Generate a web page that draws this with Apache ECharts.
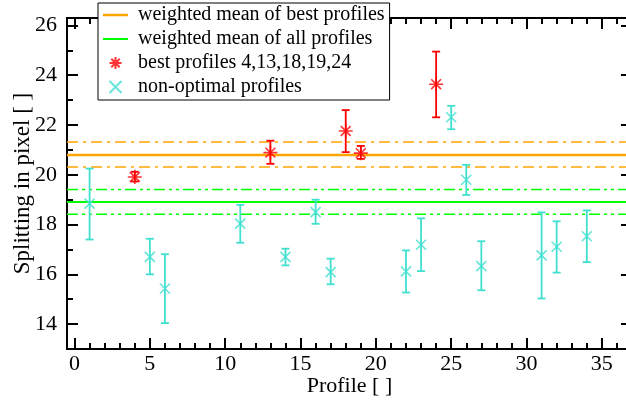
<!DOCTYPE html>
<html>
<head>
<meta charset="utf-8">
<script src="https://cdn.jsdelivr.net/npm/echarts@6/dist/echarts.min.js"></script>
<style>html,body{margin:0;padding:0;background:#fff;}#c{width:626px;height:404px;}</style>
</head>
<body>
<div id="c"></div>
<script>
// ---- data ----
var bestX  = [4, 13, 18, 19, 24];
var bestY  = [19.91, 20.89, 21.76, 20.87, 23.64];
var bestLo = [19.73, 20.44, 20.91, 20.64, 22.31];
var bestHi = [20.12, 21.37, 22.60, 21.16, 24.95];

var otherX  = [1, 5, 6, 11, 14, 16, 17, 22, 23, 25, 26, 27, 31, 32, 34];
var otherY  = [18.84, 16.70, 15.43, 18.04, 16.70, 18.50, 16.09, 16.12, 17.19, 22.31, 19.80, 16.33, 16.76, 17.11, 17.53];
var otherLo = [17.40, 16.00, 14.04, 17.27, 16.36, 18.03, 15.60, 15.27, 16.13, 21.83, 19.19, 15.36, 15.03, 16.07, 16.49];
var otherHi = [20.25, 17.43, 16.81, 18.79, 17.03, 19.00, 16.63, 16.96, 18.25, 22.77, 20.40, 17.33, 18.49, 18.13, 18.57];

var bestMean = 20.80, bestMeanLo = 20.31, bestMeanHi = 21.32;
var allMean  = 18.91, allMeanLo  = 18.41, allMeanHi  = 19.41;

var xMajorTicks = [0, 5, 10, 15, 20, 25, 30, 35];
var xMinorTicks = [0,1,2,3,4,5,6,7,8,9,10,11,12,13,14,15,16,17,18,19,20,21,22,23,24,25,26,27,28,29,30,31,32,33,34,35,36];
var yMajorTicks = [14, 16, 18, 20, 22, 24, 26];
var yMinorTicks = [13,14,15,16,17,18,19,20,21,22,23,24,25,26];

var names = ['weighted mean of best profiles', 'weighted mean of all profiles', 'best profiles 4,13,18,19,24', 'non-optimal profiles'];

// ---- chart ----
var XMIN = -0.5, XMAX = 37, YMIN = 13, YMAX = 26.3;
var FONT = 'Liberation Serif';
var ORANGE = '#ffa500', GREEN = '#00ff00', RED = '#ff0000', CYAN = '#40e0d0';
var STAR = 'path://M0,-10L0,10M-10,0L10,0M-7,-7L7,7M-7,7L7,-7';
var CROSS = 'path://M-5,-5L5,5M-5,5L5,-5';

function zip2(a, b) { return a.map(function (v, i) { return [v, b[i]]; }); }
function zip3(a, b, c) { return a.map(function (v, i) { return [v, b[i], c[i]]; }); }
function hline(v) { return [[XMIN, v], [XMAX, v]]; }

function errRender(color) {
  return function (params, api) {
    var x = api.value(0), lo = api.value(1), hi = api.value(2);
    var a = api.coord([x, lo]), b = api.coord([x, hi]);
    var w = 4;
    var st = { stroke: color, lineWidth: 1.8 };
    return { type: 'group', children: [
      { type: 'line', shape: { x1: a[0], y1: a[1], x2: b[0], y2: b[1] }, style: st },
      { type: 'line', shape: { x1: a[0] - w, y1: a[1], x2: a[0] + w, y2: a[1] }, style: st },
      { type: 'line', shape: { x1: b[0] - w, y1: b[1], x2: b[0] + w, y2: b[1] }, style: st }
    ]};
  };
}

function xAx(pos, ticks, len, labels, extra) {
  var o = {
    type: 'value', position: pos, min: XMIN, max: XMAX,
    axisLine: { show: true, onZero: false, lineStyle: { color: '#000', width: 2 } },
    axisTick: { show: true, inside: true, length: len, customValues: ticks, lineStyle: { color: '#000', width: 2 } },
    axisLabel: labels ? { show: true, customValues: xMajorTicks, color: '#000', fontFamily: FONT, fontSize: 22, margin: 4 } : { show: false },
    splitLine: { show: false }
  };
  return Object.assign(o, extra || {});
}
function yAx(pos, ticks, len, labels, extra) {
  var o = {
    type: 'value', position: pos, min: YMIN, max: YMAX,
    axisLine: { show: true, onZero: false, lineStyle: { color: '#000', width: 2 } },
    axisTick: { show: true, inside: true, length: len, customValues: ticks, lineStyle: { color: '#000', width: 2 } },
    axisLabel: labels ? { show: true, customValues: yMajorTicks, color: '#000', fontFamily: FONT, fontSize: 22, margin: 10 } : { show: false },
    splitLine: { show: false }
  };
  return Object.assign(o, extra || {});
}

var chart = echarts.init(document.getElementById('c'), null, { renderer: 'canvas' });
chart.setOption({
  animation: false,
  backgroundColor: '#fff',
  grid: { left: 67, top: 18, width: 565, height: 331, containLabel: false, outerBoundsMode: 'none' },
  xAxis: [
    xAx('bottom', xMajorTicks, 11, true, {
      name: 'Profile [ ]', nameLocation: 'middle', nameGap: 26, nameMoveOverlap: false,
      nameTextStyle: { color: '#000', fontFamily: FONT, fontSize: 22 }
    }),
    xAx('bottom', xMinorTicks, 6, false),
    xAx('top', xMajorTicks, 11, false),
    xAx('top', xMinorTicks, 6, false)
  ],
  yAxis: [
    yAx('left', yMajorTicks, 11, true, {
      name: 'Splitting in pixel [ ]', nameLocation: 'middle', nameGap: 33, nameMoveOverlap: false,
      nameTextStyle: { color: '#000', fontFamily: FONT, fontSize: 23 }
    }),
    yAx('left', yMinorTicks, 6, false),
    yAx('right', yMajorTicks, 11, false),
    yAx('right', yMinorTicks, 6, false)
  ],
  legend: {
    data: [
      { name: names[0], icon: 'path://M0,0L25,0L25,2.5L0,2.5Z', itemStyle: { color: ORANGE, borderWidth: 0 } },
      { name: names[1], icon: 'path://M0,0L25,0L25,2L0,2Z', itemStyle: { color: GREEN, borderWidth: 0 } },
      { name: names[2] },
      { name: names[3] }
    ],
    orient: 'vertical', left: 98, top: 3,
    padding: [2, 5, 3, 5], itemGap: 4,
    itemWidth: 25, itemHeight: 12,
    backgroundColor: '#fff', borderColor: '#000', borderWidth: 1,
    textStyle: { color: '#000', fontFamily: FONT, fontSize: 20, lineHeight: 20, padding: [0, 0, 0, 5] },
    selectedMode: false
  },
  series: [
    { name: names[0], type: 'line', data: hline(bestMean), symbol: 'none', silent: true, z: 2,
      lineStyle: { color: ORANGE, width: 2.5 }, itemStyle: { color: ORANGE } },
    { type: 'line', data: hline(bestMeanHi), symbol: 'none', silent: true, z: 2,
      lineStyle: { color: ORANGE, width: 1.5, type: [11, 5, 3, 5] } },
    { type: 'line', data: hline(bestMeanLo), symbol: 'none', silent: true, z: 2,
      lineStyle: { color: ORANGE, width: 1.5, type: [11, 5, 3, 5] } },
    { name: names[1], type: 'line', data: hline(allMean), symbol: 'none', silent: true, z: 2,
      lineStyle: { color: GREEN, width: 2 }, itemStyle: { color: GREEN } },
    { type: 'line', data: hline(allMeanHi), symbol: 'none', silent: true, z: 2,
      lineStyle: { color: GREEN, width: 1.5, type: [11, 4, 3, 4, 3, 4] } },
    { type: 'line', data: hline(allMeanLo), symbol: 'none', silent: true, z: 2,
      lineStyle: { color: GREEN, width: 1.5, type: [11, 4, 3, 4, 3, 4] } },
    { type: 'custom', data: zip3(otherX, otherLo, otherHi), renderItem: errRender(CYAN),
      encode: { x: 0, y: [1, 2] }, silent: true, z: 3 },
    { type: 'custom', data: zip3(bestX, bestLo, bestHi), renderItem: errRender(RED),
      encode: { x: 0, y: [1, 2] }, silent: true, z: 3 },
    { name: names[2], type: 'scatter', data: zip2(bestX, bestY), z: 4,
      symbol: STAR, symbolSize: 14,
      itemStyle: { color: RED, borderColor: RED, borderWidth: 1.6 } },
    { name: names[3], type: 'scatter', data: zip2(otherX, otherY), z: 4,
      symbol: CROSS, symbolSize: 10,
      itemStyle: { color: CYAN, borderColor: CYAN, borderWidth: 1.6 } }
  ]
});
</script>
</body>
</html>
